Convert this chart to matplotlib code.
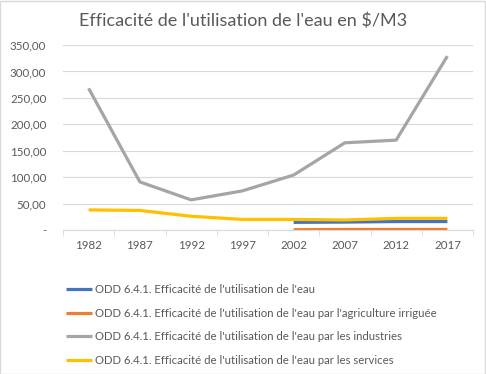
import matplotlib
matplotlib.use("Agg")
import numpy as np
import matplotlib.pyplot as plt

years = ["1982", "1987", "1992", "1997", "2002", "2007", "2012", "2017"]

eau = [None, None, None, None, 14.5, 15.0, 16.0, 16.0]
agriculture = [None, None, None, None, 0.5, 1.0, 1.0, 1.0]
industries = [268, 91, 57, 74, 104, 165, 170, 329]
services = [38, 37, 26, 20, 20, 19, 22, 22]

labels = [
    "ODD 6.4.1. Efficacité de l'utilisation de l'eau",
    "ODD 6.4.1. Efficacité de l'utilisation de l'eau par l'agriculture irriguée",
    "ODD 6.4.1. Efficacité de l'utilisation de l'eau par les industries",
    "ODD 6.4.1. Efficacité de l'utilisation de l'eau par les services",
]
colors = ["#4472C4", "#ED7D31", "#A5A5A5", "#FFC000"]

plt.rcParams["font.family"] = ["Lato", "DejaVu Sans"]
plt.rcParams["text.parse_math"] = False
txt = "#595959"

fig = plt.figure(figsize=(4.86, 3.74), dpi=100)
ax = fig.add_axes([63 / 486, 1 - 230 / 374, 410 / 486, 185 / 374])

x = np.arange(len(years))
series = [eau, agriculture, industries, services]
for vals, lab, c in zip(series, labels, colors):
    v = np.array([np.nan if a is None else a for a in vals], dtype=float)
    ax.plot(x, v, color=c, lw=2.3, label=lab, solid_capstyle="butt")

ax.set_xlim(-0.5, len(years) - 0.5)
ax.set_ylim(0, 350)
ax.set_yticks(np.arange(0, 351, 50))
ax.set_yticklabels(["-"] + [f"{v},00" for v in range(50, 351, 50)])
ax.set_xticks(x)
ax.set_xticklabels(years)
ax.set_xticks(np.arange(-0.5, len(years)), minor=True)
ax.tick_params(axis="x", which="major", length=0, pad=7, labelsize=8.3, colors=txt)
ax.tick_params(axis="x", which="minor", length=4, color="#d9d9d9")
ax.tick_params(axis="y", length=0, pad=12, labelsize=8.3, colors=txt)
ax.grid(axis="y", color="#d9d9d9", lw=0.8)
ax.set_axisbelow(True)
for s in ["top", "right", "left"]:
    ax.spines[s].set_visible(False)
ax.spines["bottom"].set_color("#d9d9d9")

fig.text(0.5, 1 - 21 / 374, "Efficacité de l'utilisation de l'eau en $/M3",
         ha="center", va="center", fontsize=13, color=txt)

fig.legend(loc="upper left", bbox_to_anchor=(56 / 486, 1 - 274 / 374),
           frameon=False, fontsize=8.2, handlelength=2.3, handletextpad=0.25,
           labelspacing=1.1, labelcolor=txt)

fig.patches.append(plt.Rectangle((0.001, 0.001), 0.997, 0.997, transform=fig.transFigure,
                                 fill=False, edgecolor="#d9d9d9", lw=1))

fig.savefig("out.png", dpi=100)
